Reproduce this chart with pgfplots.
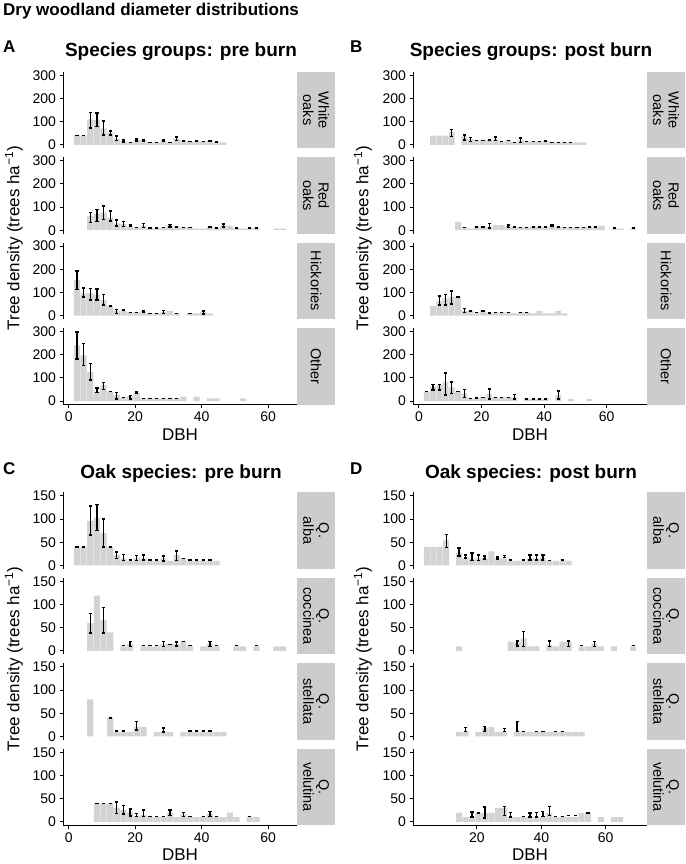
\documentclass[border=0pt]{standalone}
\usepackage{fontspec}
\setmainfont{Liberation Sans}
\usepackage{pgfplots}
\pgfplotsset{compat=1.18}
\definecolor{barcol}{RGB}{211,211,211}
\definecolor{stripcol}{RGB}{204,204,204}
\pgfplotsset{
  facet/.style={scale only axis, width=234pt, height=76.6pt, anchor=north west,
    axis lines*=left, axis line style={line width=0.9pt, black},
    tick align=outside, major tick length=3.5pt, tick style={line width=0.9pt, black},
    ytick pos=left, xtick pos=bottom,
    tick label style={font=\fontsize{14}{14}\selectfont, black},
    /pgf/number format/assume math mode=true,
    xlabel style={font=\fontsize{17}{17}\selectfont},
  },
  gAB/.style={ymin=-15, ymax=315, ytick={0,100,200,300}},
  gCD/.style={ymin=-7.5, ymax=157.5, ytick={0,50,100,150}},
  xA/.style={xmin=-1.7, xmax=68.7},
  xB/.style={xmin=-1.9, xmax=72.9},
  xD/.style={xmin=0.2, xmax=72.8},
  inner/.style={x axis line style={draw=none}, xtick=\empty},
  bottomA/.style={xtick={0,20,40,60}, xlabel={DBH}},
  bottomD/.style={xtick={20,40,60}, xlabel={DBH}},
  bars/.style={ybar, bar width=1.85, fill=barcol, draw=none},
  errs/.style={black, only marks, mark=text, text mark={},
    error bars/.cd, y dir=both, y explicit, error mark=|,
    error bar style={line width=1.3pt, black},
    error mark options={line width=1.5pt, black, mark size=1.6pt}},
}
\newcommand{\strip}[3]{% x, ytop, text
  \fill[stripcol] (#1,-#2) rectangle ({#1+38},{-#2-76.6});
  \node[rotate=-90, align=center, font=\fontsize{14.5}{15.5}\selectfont] at ({#1+19},{-#2-38.3}) {#3};}
\begin{document}
\begin{tikzpicture}[x=1pt,y=1pt]
\path[use as bounding box] (0,0) rectangle (685,-864);
% titles
\node[anchor=base west, font=\bfseries\fontsize{17}{17}\selectfont, inner sep=0pt] at (3,-16) {Dry woodland diameter distributions};
\node[anchor=base west, font=\bfseries\fontsize{17}{17}\selectfont, inner sep=0pt] at (3,-53) {A};
\node[anchor=base west, font=\bfseries\fontsize{17}{17}\selectfont, inner sep=0pt] at (350,-53) {B};
\node[anchor=base west, font=\bfseries\fontsize{17}{17}\selectfont, inner sep=0pt] at (3,-474) {C};
\node[anchor=base west, font=\bfseries\fontsize{17}{17}\selectfont, inner sep=0pt] at (350,-474) {D};
\node[anchor=base, font=\bfseries\fontsize{19}{19}\selectfont, inner sep=0pt] at (181,-57) {Species groups: pre burn};
\node[anchor=base, font=\bfseries\fontsize{19}{19}\selectfont, inner sep=0pt] at (531,-57) {Species groups: post burn};
\node[anchor=base, font=\bfseries\fontsize{19}{19}\selectfont, inner sep=0pt] at (181,-478) {Oak species: pre burn};
\node[anchor=base, font=\bfseries\fontsize{19}{19}\selectfont, inner sep=0pt] at (531,-478) {Oak species: post burn};
% y titles
\node[rotate=90, font=\fontsize{17}{17}\selectfont] at (14,-238.1) {Tree density (trees ha\textsuperscript{−1})};
\node[rotate=90, font=\fontsize{17}{17}\selectfont] at (363,-238.1) {Tree density (trees ha\textsuperscript{−1})};
\node[rotate=90, font=\fontsize{17}{17}\selectfont] at (14,-658.8) {Tree density (trees ha\textsuperscript{−1})};
\node[rotate=90, font=\fontsize{17}{17}\selectfont] at (363,-658.8) {Tree density (trees ha\textsuperscript{−1})};
% strips
\strip{297}{71.7}{White\\oaks}
\strip{297}{157.1}{Red\\oaks}
\strip{297}{242.5}{Hickories}
\strip{297}{327.9}{Other}
\strip{647}{71.7}{White\\oaks}
\strip{647}{157.1}{Red\\oaks}
\strip{647}{242.5}{Hickories}
\strip{647}{327.9}{Other}
\strip{297}{492.3}{Q.\\alba}
\strip{297}{577.8}{Q.\\coccinea}
\strip{297}{663.3}{Q.\\stellata}
\strip{297}{748.7}{Q.\\velutina}
\strip{647}{492.3}{Q.\\alba}
\strip{647}{577.8}{Q.\\coccinea}
\strip{647}{663.3}{Q.\\stellata}
\strip{647}{748.7}{Q.\\velutina}

%================ PANEL A =================
\begin{axis}[facet, gAB, xA, inner, at={(63pt,-71.7pt)}]
\addplot[bars] coordinates {(2.5,40)(4.5,40)(6.5,110)(8.5,107)(10.5,71)(12.5,53)(14.5,26)(16.5,17)(18.5,11)(20.5,21)(22.5,20)(24.5,11)(26.5,11)(28.5,18)(30.5,11)(32.5,26)(34.5,17)(36.5,14)(38.5,17)(40.5,14)(42.5,17)(44.5,13)(46.5,11)};
\addplot[errs] table[x=x, y=y, y error plus=p, y error minus=m, row sep=\\] {
x y p m\\ 2.5 40 0 0\\ 4.5 40 0 0\\ 6.5 110 30 38\\ 8.5 107 29 28\\ 10.5 72 31 29\\ 12.5 53 7 10\\ 14.5 28 11 9\\ 16.5 17 4 4\\ 18.5 11 0 0\\ 20.5 21 4 4\\ 22.5 20 3 3\\ 24.5 11 0 0\\ 26.5 11 0 0\\ 28.5 18 3 3\\ 30.5 11 0 0\\ 32.5 26 8 8\\ 34.5 17 2 2\\ 36.5 14 0 0\\ 38.5 17 2 2\\ 40.5 14 0 0\\ 42.5 17 0 0\\ 44.5 13 0 0\\
};
\end{axis}
\begin{axis}[facet, gAB, xA, inner, at={(63pt,-157.1pt)}]
\addplot[bars] coordinates {(6.5,61)(8.5,69)(10.5,76)(12.5,54)(14.5,30)(16.5,26)(18.5,16)(20.5,11)(22.5,19)(24.5,9)(26.5,9)(28.5,11)(30.5,21)(32.5,14)(34.5,11)(36.5,11)(38.5,7)(40.5,7)(42.5,13)(44.5,9)(46.5,20)(48.5,19)(50.5,9)(52.5,7)(54.5,9)(56.5,9)(62.5,7)(64.5,7)};
\addplot[errs] table[x=x, y=y, y error plus=p, y error minus=m, row sep=\\] {
x y p m\\ 6.5 55 21 22\\ 8.5 65 25 28\\ 10.5 75 29 28\\ 12.5 61 22 21\\ 14.5 31 12 12\\ 16.5 27 10 10\\ 18.5 19 3 3\\ 20.5 11 0 0\\ 22.5 20 9 9\\ 24.5 9 0 0\\ 26.5 9 0 0\\ 28.5 11 0 0\\ 30.5 19 5 5\\ 32.5 14 0 0\\ 34.5 11 0 0\\ 36.5 11 0 0\\ 42.5 13 2 2\\ 44.5 9 0 0\\ 46.5 20 6 6\\ 50.5 9 0 0\\ 54.5 9 0 0\\ 56.5 9 0 0\\
};
\end{axis}
\begin{axis}[facet, gAB, xA, inner, at={(63pt,-242.5pt)}]
\addplot[bars] coordinates {(2.5,153)(4.5,96)(6.5,96)(8.5,89)(10.5,67)(12.5,41)(14.5,20)(16.5,20)(18.5,14)(20.5,14)(22.5,19)(24.5,10)(26.5,10)(28.5,16)(30.5,20)(32.5,10)(36.5,10)(38.5,10)(40.5,15)(42.5,10)};
\addplot[errs] table[x=x, y=y, y error plus=p, y error minus=m, row sep=\\] {
x y p m\\ 2.5 153 40 40\\ 4.5 100 20 19\\ 6.5 92 25 25\\ 8.5 90 24 23\\ 10.5 68 23 22\\ 12.5 41 0 0\\ 14.5 18 9 8\\ 16.5 24 0 0\\ 18.5 14 0 0\\ 20.5 14 0 0\\ 22.5 17 2 2\\ 24.5 10 0 0\\ 26.5 10 0 0\\ 28.5 16 7 7\\ 32.5 10 0 0\\ 36.5 10 0 0\\ 40.5 13 7 7\\
};
\end{axis}
\begin{axis}[facet, gAB, xA, bottomA, at={(63pt,-327.9pt)}]
\addplot[bars] coordinates {(2.5,240)(4.5,197)(6.5,126)(8.5,40)(10.5,69)(12.5,40)(14.5,26)(16.5,16)(18.5,20)(20.5,36)(22.5,11)(24.5,11)(26.5,11)(28.5,11)(30.5,11)(32.5,11)(34.5,19)(38.5,19)(42.5,11)(44.5,11)(52.5,11)};
\addplot[errs] table[x=x, y=y, y error plus=p, y error minus=m, row sep=\\] {
x y p m\\ 2.5 240 57 60\\ 4.5 200 47 46\\ 6.5 126 35 36\\ 8.5 47 10 10\\ 10.5 66 14 16\\ 12.5 40 0 0\\ 14.5 23 13 14\\ 16.5 16 0 0\\ 18.5 16 7 7\\ 20.5 37 3 3\\ 22.5 11 0 0\\ 24.5 11 0 0\\ 26.5 11 0 0\\ 28.5 11 0 0\\ 30.5 11 0 0\\ 32.5 11 0 0\\
};
\end{axis}

%================ PANEL B =================
\begin{axis}[facet, gAB, xB, inner, at={(413pt,-71.7pt)}]
\addplot[bars] coordinates {(4.5,40)(6.5,40)(8.5,40)(10.5,55)(14.5,36)(16.5,24)(18.5,19)(20.5,19)(22.5,20)(24.5,27)(26.5,14)(28.5,19)(30.5,11)(32.5,20)(34.5,14)(36.5,14)(38.5,14)(40.5,16)(42.5,11)(44.5,11)(46.5,11)(48.5,11)(50.5,11)(52.5,11)};
\addplot[errs] table[x=x, y=y, y error plus=p, y error minus=m, row sep=\\] {
x y p m\\ 10.5 52 15 16\\ 14.5 32 11 11\\ 16.5 22 9 8\\ 18.5 19 0 0\\ 20.5 19 0 0\\ 22.5 21 0 0\\ 24.5 26 7 7\\ 26.5 14 0 0\\ 28.5 19 0 0\\ 30.5 11 0 0\\ 32.5 20 9 9\\ 34.5 14 0 0\\ 36.5 14 0 0\\ 38.5 14 0 0\\ 40.5 16 0 0\\ 42.5 11 0 0\\ 44.5 11 0 0\\ 46.5 11 0 0\\ 48.5 11 0 0\\
};
\end{axis}
\begin{axis}[facet, gAB, xB, inner, at={(413pt,-157.1pt)}]
\addplot[bars] coordinates {(12.5,37)(14.5,12)(16.5,7)(18.5,14)(20.5,17)(22.5,14)(24.5,22)(26.5,22)(28.5,17)(30.5,14)(32.5,12)(34.5,12)(36.5,14)(38.5,14)(40.5,14)(42.5,19)(44.5,14)(46.5,12)(48.5,12)(50.5,12)(52.5,12)(54.5,14)(56.5,14)(58.5,20)(62.5,7)(64.5,7)(68.5,7)};
\addplot[errs] table[x=x, y=y, y error plus=p, y error minus=m, row sep=\\] {
x y p m\\ 14.5 12 0 0\\ 18.5 14 0 0\\ 20.5 14 0 0\\ 22.5 20 10 10\\ 28.5 17 5 5\\ 30.5 14 0 0\\ 32.5 12 0 0\\ 34.5 12 0 0\\ 36.5 14 0 0\\ 38.5 14 0 0\\ 40.5 14 0 0\\ 42.5 19 3 3\\ 44.5 14 0 0\\ 46.5 12 0 0\\ 48.5 12 0 0\\ 50.5 12 0 0\\ 52.5 12 0 0\\ 54.5 14 0 0\\ 56.5 14 2 2\\ 62.5 9 0 0\\ 68.5 9 0 0\\
};
\end{axis}
\begin{axis}[facet, gAB, xB, inner, at={(413pt,-242.5pt)}]
\addplot[bars] coordinates {(4.5,41)(6.5,63)(8.5,74)(10.5,81)(12.5,81)(14.5,20)(16.5,20)(18.5,14)(20.5,20)(22.5,11)(24.5,14)(26.5,14)(28.5,14)(30.5,10)(32.5,14)(34.5,14)(36.5,10)(38.5,20)(40.5,10)(42.5,10)(44.5,20)(46.5,10)};
\addplot[errs] table[x=x, y=y, y error plus=p, y error minus=m, row sep=\\] {
x y p m\\ 6.5 65 19 19\\ 8.5 68 23 22\\ 10.5 78 29 28\\ 12.5 81 0 0\\ 14.5 22 9 8\\ 16.5 20 0 0\\ 18.5 14 0 0\\ 20.5 20 0 0\\ 22.5 11 0 0\\ 24.5 14 0 0\\ 26.5 14 0 0\\ 28.5 14 0 0\\ 32.5 14 0 0\\ 34.5 14 0 0\\
};
\end{axis}
\begin{axis}[facet, gAB, xB, bottomA, at={(413pt,-327.9pt)}]
\addplot[bars] coordinates {(2.5,40)(4.5,61)(6.5,69)(8.5,83)(10.5,59)(12.5,40)(14.5,33)(16.5,11)(18.5,14)(20.5,16)(22.5,30)(24.5,16)(26.5,16)(28.5,16)(30.5,16)(34.5,9)(36.5,9)(38.5,9)(40.5,9)(44.5,26)(48.5,9)(54.5,9)};
\addplot[errs] table[x=x, y=y, y error plus=p, y error minus=m, row sep=\\] {
x y p m\\ 2.5 40 0 0\\ 4.5 59 12 12\\ 6.5 59 12 12\\ 8.5 73 48 47\\ 10.5 58 25 25\\ 12.5 40 0 0\\ 14.5 33 17 17\\ 16.5 11 0 0\\ 18.5 14 0 0\\ 20.5 16 0 0\\ 22.5 30 21 21\\ 24.5 16 0 0\\ 26.5 16 0 0\\ 28.5 16 0 0\\ 30.5 19 10 10\\ 34.5 9 0 0\\ 36.5 9 0 0\\ 38.5 9 0 0\\ 40.5 9 0 0\\ 44.5 26 17 17\\
};
\end{axis}

%================ PANEL C =================
\begin{axis}[facet, gCD, xA, inner, at={(63pt,-492.3pt)}]
\addplot[bars] coordinates {(2.5,40)(4.5,40)(6.5,96)(8.5,103)(10.5,70)(12.5,40)(14.5,22)(16.5,15)(18.5,10)(20.5,15)(22.5,15)(24.5,10)(26.5,10)(28.5,15)(30.5,10)(32.5,22)(34.5,15)(36.5,10)(38.5,10)(40.5,10)(42.5,10)(44.5,10)};
\addplot[errs] table[x=x, y=y, y error plus=p, y error minus=m, row sep=\\] {
x y p m\\ 2.5 40 0 0\\ 4.5 40 0 0\\ 6.5 97 31 32\\ 8.5 103 28 28\\ 10.5 70 30 30\\ 12.5 40 0 0\\ 14.5 22 7 7\\ 16.5 17 6 6\\ 18.5 12 0 0\\ 20.5 16 5 5\\ 22.5 17 5 5\\ 24.5 12 0 0\\ 26.5 12 0 0\\ 28.5 15 5 5\\ 32.5 21 10 10\\ 34.5 15 0 0\\ 36.5 12 0 0\\ 38.5 12 0 0\\ 40.5 12 0 0\\ 42.5 12 0 0\\
};
\end{axis}
\begin{axis}[facet, gCD, xA, inner, at={(63pt,-577.8pt)}]
\addplot[bars] coordinates {(6.5,60)(8.5,119)(10.5,67)(12.5,40)(16.5,10)(18.5,15)(22.5,10)(24.5,10)(26.5,10)(28.5,15)(30.5,15)(32.5,15)(34.5,20)(36.5,10)(40.5,10)(42.5,15)(44.5,10)(50.5,10)(52.5,10)(56.5,10)(62.5,10)(64.5,10)};
\addplot[errs] table[x=x, y=y, y error plus=p, y error minus=m, row sep=\\] {
x y p m\\ 6.5 60 21 21\\ 10.5 67 27 28\\ 16.5 12 0 0\\ 18.5 15 5 5\\ 22.5 12 0 0\\ 24.5 12 0 0\\ 26.5 12 0 0\\ 28.5 15 5 5\\ 30.5 14 0 0\\ 32.5 15 4 4\\ 34.5 20 0 0\\ 36.5 12 0 0\\ 42.5 15 5 5\\ 44.5 12 0 0\\ 50.5 12 0 0\\ 56.5 12 0 0\\
};
\end{axis}
\begin{axis}[facet, gCD, xA, inner, at={(63pt,-663.3pt)}]
\addplot[bars] coordinates {(6.5,80)(12.5,40)(14.5,10)(16.5,10)(18.5,10)(20.5,20)(22.5,20)(26.5,10)(28.5,10)(30.5,10)(34.5,10)(36.5,10)(38.5,10)(40.5,10)(42.5,10)(44.5,10)(46.5,10)};
\addplot[errs] table[x=x, y=y, y error plus=p, y error minus=m, row sep=\\] {
x y p m\\ 12.5 40 0 0\\ 14.5 12 0 0\\ 16.5 12 0 0\\ 20.5 23 9 9\\ 28.5 14 4 4\\ 36.5 12 0 0\\ 38.5 12 0 0\\ 40.5 12 0 0\\ 42.5 12 0 0\\
};
\end{axis}
\begin{axis}[facet, gCD, xA, bottomA, at={(63pt,-748.7pt)}]
\addplot[bars] coordinates {(8.5,40)(10.5,40)(12.5,40)(14.5,30)(16.5,25)(18.5,20)(20.5,12)(22.5,15)(24.5,10)(26.5,10)(28.5,10)(30.5,19)(32.5,10)(34.5,16)(36.5,10)(38.5,10)(40.5,10)(42.5,17)(44.5,10)(46.5,10)(48.5,20)(50.5,10)(54.5,10)(56.5,10)};
\addplot[errs] table[x=x, y=y, y error plus=p, y error minus=m, row sep=\\] {
x y p m\\ 8.5 40 0 0\\ 10.5 40 0 0\\ 12.5 40 0 0\\ 14.5 30 13 12\\ 16.5 25 10 8\\ 18.5 20 8 7\\ 20.5 15 3 3\\ 22.5 18 7 7\\ 24.5 11 0 0\\ 26.5 11 0 0\\ 28.5 11 0 0\\ 30.5 19 6 5\\ 34.5 16 4 4\\ 36.5 12 0 0\\ 40.5 12 0 0\\ 42.5 17 5 5\\ 44.5 12 0 0\\ 54.5 12 0 0\\
};
\end{axis}

%================ PANEL D =================
\begin{axis}[facet, gCD, xD, inner, at={(413pt,-492.3pt)}]
\addplot[bars] coordinates {(4.5,40)(6.5,40)(8.5,40)(10.5,54)(14.5,27)(16.5,15)(18.5,15)(20.5,15)(22.5,15)(24.5,30)(26.5,15)(28.5,15)(30.5,10)(32.5,10)(34.5,10)(36.5,15)(38.5,15)(40.5,15)(42.5,10)(44.5,10)(46.5,10)(48.5,10)};
\addplot[errs] table[x=x, y=y, y error plus=p, y error minus=m, row sep=\\] {
x y p m\\ 10.5 53 14 14\\ 14.5 28 9 8\\ 16.5 19 3 3\\ 18.5 17 10 6\\ 20.5 16 6 5\\ 22.5 17 3 3\\ 26.5 16 2 2\\ 28.5 19 2 2\\ 30.5 12 0 0\\ 34.5 12 0 0\\ 36.5 17 5 5\\ 38.5 17 5 5\\ 40.5 17 5 5\\ 42.5 11 0 0\\ 46.5 12 0 0\\
};
\end{axis}
\begin{axis}[facet, gCD, xD, inner, at={(413pt,-577.8pt)}]
\addplot[bars] coordinates {(14.5,10)(30.5,20)(32.5,18)(34.5,27)(36.5,10)(38.5,10)(42.5,13)(44.5,10)(46.5,20)(48.5,20)(52.5,10)(54.5,10)(56.5,15)(58.5,10)(62.5,10)(68.5,10)};
\addplot[errs] table[x=x, y=y, y error plus=p, y error minus=m, row sep=\\] {
x y p m\\ 32.5 16 5 5\\ 34.5 25 17 16\\ 42.5 15 6 6\\ 48.5 15 6 6\\ 52.5 12 0 0\\ 56.5 15 5 5\\ 68.5 12 0 0\\
};
\end{axis}
\begin{axis}[facet, gCD, xD, inner, at={(413pt,-663.3pt)}]
\addplot[bars] coordinates {(14.5,10)(16.5,10)(20.5,10)(22.5,18)(24.5,20)(26.5,10)(28.5,10)(32.5,10)(34.5,10)(36.5,10)(38.5,10)(40.5,10)(42.5,10)(44.5,10)(46.5,10)(48.5,10)(50.5,10)(52.5,10)};
\addplot[errs] table[x=x, y=y, y error plus=p, y error minus=m, row sep=\\] {
x y p m\\ 16.5 15 4 4\\ 22.5 16 5 5\\ 28.5 14 3 3\\ 32.5 22 10 11\\ 34.5 11 0 0\\ 38.5 11 0 0\\ 40.5 11 0 0\\ 44.5 11 0 0\\ 46.5 11 0 0\\
};
\end{axis}
\begin{axis}[facet, gCD, xD, bottomD, at={(413pt,-748.7pt)}]
\addplot[bars] coordinates {(14.5,20)(16.5,10)(18.5,10)(20.5,19)(22.5,19)(24.5,20)(26.5,30)(28.5,30)(30.5,10)(32.5,10)(34.5,10)(36.5,10)(38.5,10)(40.5,10)(42.5,19)(44.5,10)(46.5,10)(48.5,10)(50.5,10)(52.5,19)(54.5,19)(58.5,10)(62.5,10)(64.5,10)};
\addplot[errs] table[x=x, y=y, y error plus=p, y error minus=m, row sep=\\] {
x y p m\\ 18.5 15 6 5\\ 20.5 19 0 0\\ 22.5 20 12 12\\ 28.5 23 10 9\\ 30.5 15 5 5\\ 34.5 12 0 0\\ 36.5 14 5 4\\ 38.5 15 5 5\\ 40.5 17 5 5\\ 42.5 22 11 8\\ 44.5 12 0 0\\ 46.5 12 0 0\\ 48.5 14 0 0\\ 50.5 14 0 0\\ 54.5 19 0 0\\
};
\end{axis}
\end{tikzpicture}
\end{document}
